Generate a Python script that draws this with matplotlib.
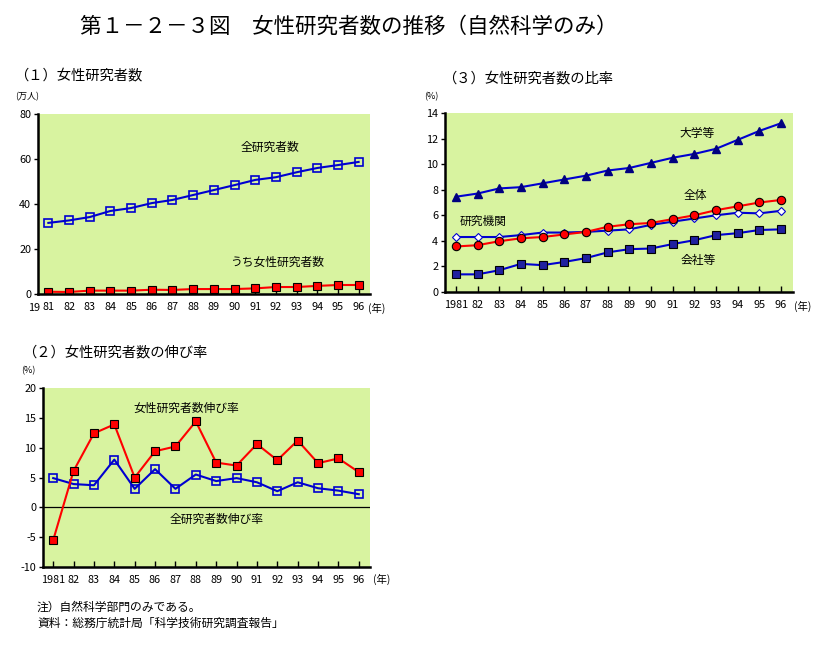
import matplotlib
matplotlib.use('Agg')
import matplotlib.pyplot as plt

plt.rcParams['font.family'] = ['Noto Sans CJK JP', 'DejaVu Sans']

# データ
years = list(range(81, 97))
year_labels = ['81', '82', '83', '84', '85', '86', '87', '88', '89', '90',
               '91', '92', '93', '94', '95', '96']

# (1) 女性研究者数（万人）
total_researchers = [31.6, 32.7, 34.2, 36.9, 38.2, 40.4, 41.8, 44.0,
                     46.2, 48.4, 50.7, 51.9, 54.1, 56.0, 57.3, 58.7]
women_researchers = [1.0, 0.9, 1.5, 1.5, 1.5, 1.9, 1.8, 2.2,
                     2.2, 2.2, 2.5, 3.1, 3.1, 3.6, 4.0, 4.0]

# (2) 伸び率（%）
women_growth = [-5.5, 6.1, 12.4, 13.9, 5.0, 9.4, 10.2, 14.4,
                7.5, 7.0, 10.6, 7.9, 11.2, 7.4, 8.2, 5.9]
total_growth = [4.9, 3.9, 3.7, 8.0, 3.1, 6.4, 3.1, 5.5,
                4.4, 4.9, 4.2, 2.7, 4.2, 3.2, 2.8, 2.2]

# (3) 比率（%）
ratio_univ = [7.45, 7.7, 8.1, 8.2, 8.5, 8.8, 9.1, 9.5,
              9.7, 10.1, 10.5, 10.8, 11.2, 11.9, 12.6, 13.2]
ratio_all = [3.56, 3.66, 3.97, 4.2, 4.3, 4.5, 4.7, 5.1,
             5.3, 5.4, 5.7, 6.0, 6.4, 6.7, 7.0, 7.2]
ratio_inst = [4.3, 4.3, 4.3, 4.45, 4.65, 4.65, 4.7, 4.8,
              4.9, 5.25, 5.5, 5.75, 6.0, 6.2, 6.15, 6.35]
ratio_comp = [1.38, 1.38, 1.7, 2.2, 2.1, 2.35, 2.65, 3.1,
              3.35, 3.4, 3.75, 4.05, 4.45, 4.6, 4.85, 4.9]

BG = '#d8f3a0'
BLUE = '#0000d0'
RED = '#ff0000'
W, H = 831, 649
LW = 1.5

fig = plt.figure(figsize=(8.31, 6.49), dpi=100)


def px_axes(x0, y0, x1, y1):
    return fig.add_axes([x0 / W, 1 - y1 / H, (x1 - x0) / W, (y1 - y0) / H])


def ftext(x, y, s, size=9, ha='left'):
    fig.text(x / W, 1 - y / H, s, fontsize=size, ha=ha, va='center')


def style(ax, ylim, yticks, first_label):
    ax.set_facecolor(BG)
    ax.set_xlim(80.5, 96.55)
    ax.set_ylim(*ylim)
    ax.set_yticks(yticks)
    ax.set_yticklabels([str(v) for v in yticks])
    ax.set_xticks(years)
    labels = list(year_labels)
    labels[0] = first_label
    ax.set_xticklabels(labels)
    for s in ['top', 'right']:
        ax.spines[s].set_visible(False)
    for s in ['left', 'bottom']:
        ax.spines[s].set_linewidth(1.8)
    ax.tick_params(axis='x', direction='in', length=4, width=1, labelsize=7.8, pad=6)
    ax.tick_params(axis='y', direction='out', length=3, width=1, labelsize=7.8, pad=2)


ftext(80, 27, '第１－２－３図　女性研究者数の推移（自然科学のみ）', size=15.5)

# (1)
ax1 = px_axes(38, 114, 370, 294)
ax1.plot(years, total_researchers, color=BLUE, lw=LW, marker='s', ms=6,
         mfc='none', mec=BLUE, mew=1.2)
ax1.plot(years, women_researchers, color=RED, lw=LW, marker='s', ms=6,
         mfc=RED, mec='black', mew=0.8)
style(ax1, (0, 80), [0, 20, 40, 60, 80], '81')
ftext(14, 75, '（１）女性研究者数', size=10.3)
ftext(15, 97, '(万人)', size=6.5)
ftext(241, 147, '全研究者数', size=8.5)
ftext(230, 262, 'うち女性研究者数', size=8.5)
ftext(28, 308, '19', size=7.8)
ftext(368, 308, '(年)', size=7.5)

# (3)
ax3 = px_axes(445, 113, 793, 292)
ax3.plot(years, ratio_univ, color=BLUE, lw=LW, marker='^', ms=6,
         mfc='#000080', mec='#000080')
ax3.plot(years, ratio_inst, color=BLUE, lw=LW, marker='D', ms=4,
         mfc='white', mec=BLUE, mew=0.8)
ax3.plot(years, ratio_all, color=RED, lw=LW, marker='o', ms=6,
         mfc=RED, mec='black', mew=0.8)
ax3.plot(years, ratio_comp, color=BLUE, lw=LW, marker='s', ms=5.5,
         mfc='#2020a0', mec='black', mew=0.8)
style(ax3, (0, 14), [0, 2, 4, 6, 8, 10, 12, 14], '1981')
ftext(442, 78, '（３）女性研究者数の比率', size=10.3)
ftext(424, 97, '(%)', size=6.5)
ftext(679, 134, '大学等', size=8.5)
ftext(684, 195, '全体', size=8.5)
ftext(460, 221, '研究機関', size=8.5)
ftext(681, 261, '会社等', size=8.5)
ftext(794, 306, '(年)', size=7.5)

# (2)
ax2 = px_axes(43, 388, 370, 567)
ax2.axhline(0, color='black', lw=0.9)
ax2.plot(years, total_growth, color=BLUE, lw=LW, marker='s', ms=6,
         mfc='none', mec=BLUE, mew=1.2)
ax2.plot(years, women_growth, color=RED, lw=LW, marker='s', ms=6,
         mfc=RED, mec='black', mew=0.8)
style(ax2, (-10, 20), [-10, -5, 0, 5, 10, 15, 20], '1981')
ftext(22, 352, '（２）女性研究者数の伸び率', size=10.3)
ftext(21, 371, '(%)', size=6.5)
ftext(133, 408, '女性研究者数伸び率', size=8.5)
ftext(170, 519, '全研究者数伸び率', size=8.5)
ftext(373, 579, '(年)', size=7.5)

ftext(37, 607, '注）自然科学部門のみである。', size=8.5)
ftext(37, 623, '資料：総務庁統計局「科学技術研究調査報告」', size=8.5)

fig.savefig('out.png', dpi=100)
